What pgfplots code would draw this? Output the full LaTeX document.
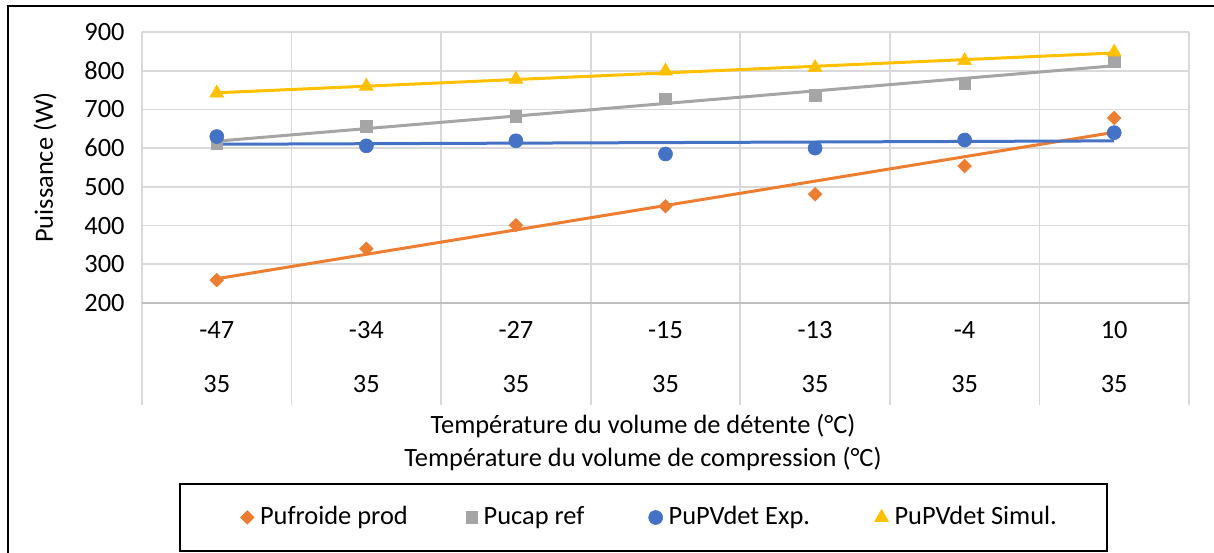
\documentclass[border=0pt]{standalone}
\usepackage{pgfplots}
\pgfplotsset{compat=1.18}
\usepackage{fontspec}
\setmainfont{Carlito}
\definecolor{corange}{HTML}{ED7D31}
\definecolor{cgray}{HTML}{A5A5A5}
\definecolor{cblue}{HTML}{4472C4}
\definecolor{cgold}{HTML}{FFC000}
\definecolor{gridc}{HTML}{D9D9D9}
\definecolor{axisc}{HTML}{BFBFBF}

\pgfplotstableread{
x y
0 259
1 340
2 401
3 450
4 481
5 554
6 678
}\tabfroid
\pgfplotstableread{
x y
0 612
1 657
2 683
3 728
4 737
5 768
6 823
}\tabcap
\pgfplotstableread{
x y
0 630
1 606
2 619
3 585
4 600
5 621
6 640
}\tabexp
\pgfplotstableread{
x y
0 742
1 760
2 778
3 799
4 808
5 826
6 848
}\tabsim

\begin{document}
\fontsize{13.2}{15.84}\selectfont
\begin{tikzpicture}
\useasboundingbox (-71pt,-124.5pt) rectangle (536pt,151.5pt);
\draw[line width=1pt] (-67pt,-140pt) -- (-67pt,148.7pt) -- (560pt,148.7pt);
\begin{axis}[
  scale only axis, width=523.5pt, height=135.5pt,
  at={(0pt,0pt)}, anchor=south west,
  xmin=-0.5, xmax=6.5, ymin=200, ymax=900,
  ytick={200,300,...,900},
  xtick={0,...,6},
  xticklabels={{-47\\[11.2pt]35},{-34\\[11.2pt]35},{-27\\[11.2pt]35},{-15\\[11.2pt]35},{-13\\[11.2pt]35},{-4\\[11.2pt]35},{10\\[11.2pt]35}},
  xticklabel style={align=center, yshift=-4.5pt},
  yticklabel style={xshift=-4.1pt},
  /pgf/number format/assume math mode=true,
  axis line style={draw=none},
  ymajorgrids,
  grid style={draw=gridc, line width=0.8pt},
  tick pos=left,
  tick align=outside,
  major tick length=0pt,
  tick style={draw=gridc, line width=0.8pt},
  extra x ticks={-0.5,0.5,1.5,2.5,3.5,4.5,5.5,6.5},
  extra x tick labels={},
  extra x tick style={xmajorgrids, major tick length=51pt},
  extra y ticks={200},
  extra y tick labels={},
  extra y tick style={grid style={draw=axisc, line width=0.8pt}},
  xlabel={Température du volume de détente (°C)\\[0.7pt]Température du volume de compression (°C)},
  xlabel style={align=center, at={(axis description cs:0.4785,-0.5148)}, anchor=center},
  ylabel={Puissance (W)},
  ylabel style={at={(axis description cs:-0.0926,0.5)}, anchor=center},
  legend columns=4,
  legend image code/.code={\draw[mark repeat=2,mark phase=2,#1] plot coordinates {(0pt,0pt)(3.5pt,0pt)(7pt,0pt)};},
  legend style={at={(axis description cs:0.479,-0.7915)}, anchor=center, draw=black, line width=1pt,
    inner xsep=30pt, inner ysep=9pt,
    /tikz/every even column/.append style={column sep=0pt},
    /tikz/every odd column/.append style={column sep=1pt}},
]
\addplot[only marks, mark=square*, mark size=2.4pt, mark options={rotate=45, fill=corange, draw=corange, line width=0.3pt}] table[x=x,y=y] {\tabfroid};
\addlegendentry{\makebox[101pt][l]{Pufroide prod}}
\addplot[only marks, mark=square*, mark size=2.9pt, mark options={fill=cgray, draw=cgray, line width=0.3pt}] table[x=x,y=y] {\tabcap};
\addlegendentry{\makebox[80.5pt][l]{Pucap ref}}
\addplot[only marks, mark=*, mark size=3.5pt, mark options={fill=cblue, draw=cblue, line width=0.3pt}] table[x=x,y=y] {\tabexp};
\addlegendentry{\makebox[101pt][l]{PuPVdet Exp.}}
\addplot[only marks, mark=triangle*, mark size=4pt, mark options={fill=cgold, draw=cgold, line width=0.3pt}] table[x=x,y=y] {\tabsim};
\addlegendentry{\makebox[74pt][l]{PuPVdet Simul.}}
% linear trendlines (endpoints of least-squares fits)
\addplot[forget plot, draw=corange, line width=1.5pt] coordinates {(0,262.75) (6,640.96)};
\addplot[forget plot, draw=cgray, line width=1.5pt] coordinates {(0,618.04) (6,812.82)};
\addplot[forget plot, draw=cblue, line width=1.5pt] coordinates {(0,610.04) (6,618.82)};
\addplot[forget plot, draw=cgold, line width=1.5pt] coordinates {(0,743.00) (6,845.86)};
\end{axis}
\end{tikzpicture}
\end{document}
